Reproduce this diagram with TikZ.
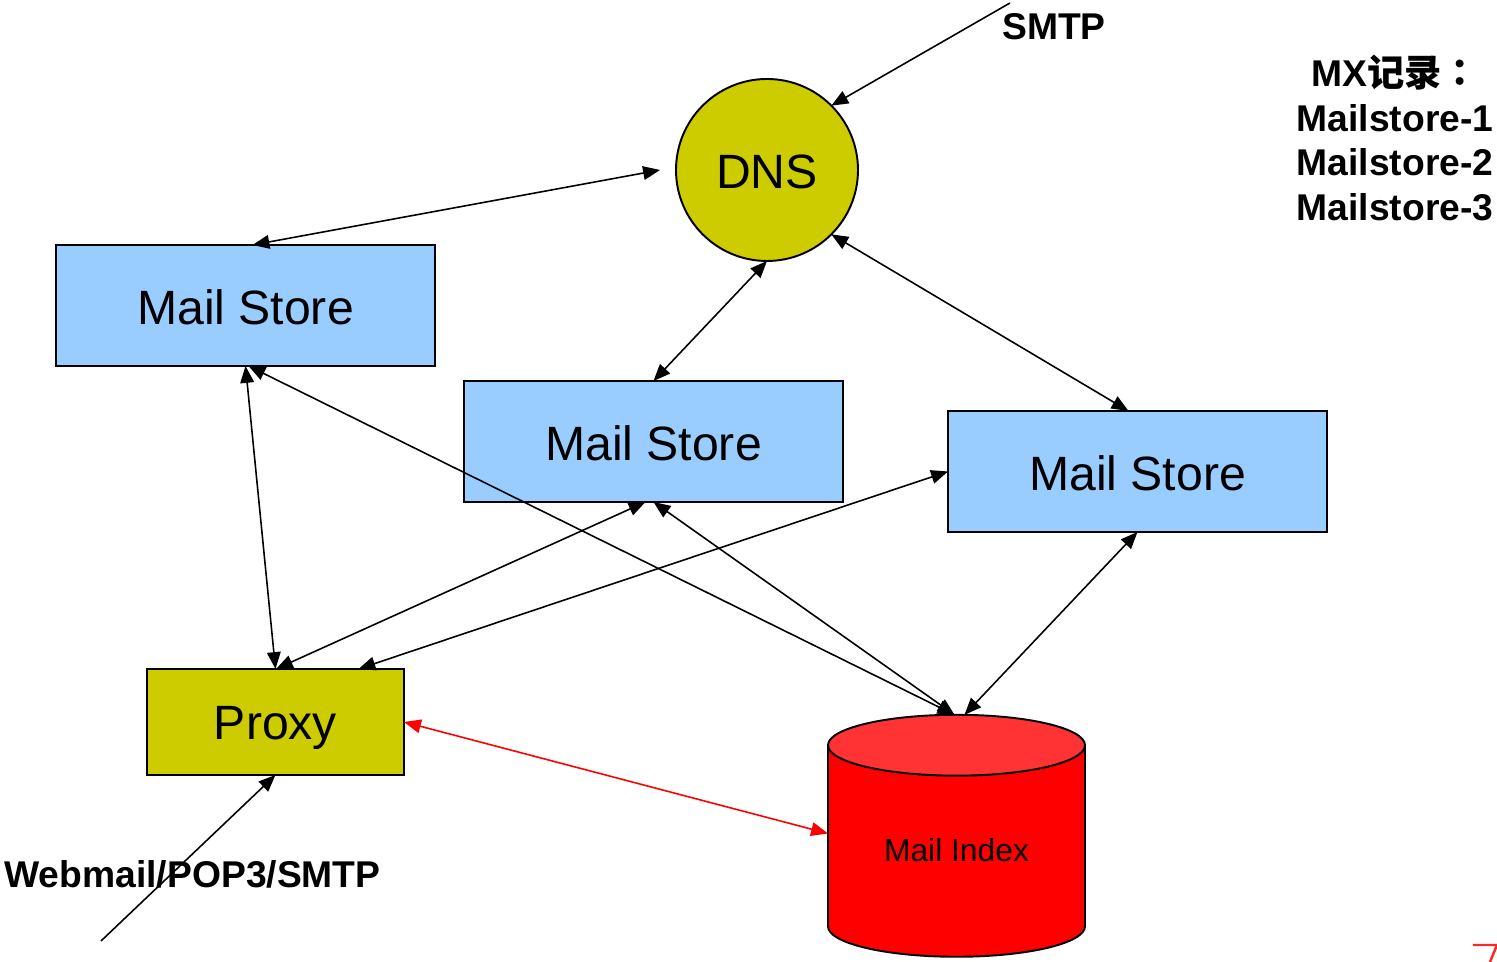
\documentclass[tikz,border=0pt]{standalone}
\usepackage{fontspec}
\setmainfont{Liberation Sans}
\newfontfamily\cjk{Noto Sans CJK TC}
\usetikzlibrary{arrows.meta,shapes.geometric}
\definecolor{storeblue}{HTML}{99CCFF}
\definecolor{olive}{HTML}{CCCC00}
\definecolor{indextop}{HTML}{FF3333}
\tikzset{
	box/.style={draw=black, line width=0.55pt, outer sep=0pt, inner sep=0pt, text height=12pt, text depth=1.06pt, font=\fontsize{13.7}{16}\selectfont},
	store/.style={box, fill=storeblue, minimum width=3.79cm, minimum height=1.21cm},
	link/.style={line width=0.45pt, {Triangle[length=4.8pt,width=3.9pt]}-{Triangle[length=4.8pt,width=3.9pt]}},
	inlink/.style={line width=0.45pt, -{Triangle[length=4.8pt,width=3.9pt]}},
	caption/.style={font=\fontsize{10.6}{12.7}\selectfont\bfseries, inner sep=0pt}
}
\begin{document}
\begin{tikzpicture}
	\useasboundingbox (0,0) rectangle (14.97,9.62);
	% Server
	\node[box, circle, text depth=1.7pt, fill=olive, minimum size=1.82cm] (dns) at (7.67,7.92) {DNS};
	\node[store] (storeA) at (2.455,6.565) {Mail Store};
	\node[store] (storeB) at (6.535,5.205) {Mail Store};
	\node[store] (storeC) at (11.375,4.905) {Mail Store};
	\node[box, text depth=2pt, fill=olive, minimum width=2.57cm, minimum height=1.06cm] (proxy) at (2.755,2.40) {Proxy};
	\node[draw=black, line width=0.55pt, outer sep=0pt, inner sep=0pt, shape=cylinder, shape border rotate=90, aspect=0.42, cylinder uses custom fill, cylinder body fill=red, cylinder end fill=indextop, minimum width=2.57cm, minimum height=2.42cm, text depth=1.1pt, font=\fontsize{9.05}{11}\selectfont] (index) at (9.565,1.105) {Mail Index};

	% Beschriftungen
	\node[caption] (smtp) at (10.54,9.35) {SMTP};
	\node[caption] (webmail) at (1.925,0.88) {Webmail/POP3/SMTP};
	\node[caption, align=center] (mx) at (13.95,8.24) {MX{\cjk 记录：}\\Mailstore-1\\Mailstore-2\\Mailstore-3};

	% freie Enden
	\coordinate (smtpin) at (10.10,9.59);
	\coordinate (webin) at (1.01,0.21);
	\coordinate (dnsleft) at (6.60,7.92);

	% Verbindungen
	\draw[inlink] (smtpin) -- (dns.45);
	\draw[inlink] (webin) -- (proxy.south);
	\draw[link] ([xshift=0.07cm]storeA.north) -- (dnsleft);
	\draw[link] (dns.south) -- (storeB.north);
	\draw[link] (dns.-45) -- ([xshift=-0.09cm]storeC.north);
	\draw[link] (storeA.south) -- (proxy.north);
	\draw[link] ([xshift=0.03cm]storeA.south) -- ([xshift=-0.02cm]index.north);
	\draw[link] (storeB.south) -- ([xshift=-0.02cm]index.north);
	\draw[link] (storeC.south) -- ([xshift=0.08cm]index.north);
	\draw[link] ([xshift=-0.08cm]storeB.south) -- ([xshift=0.005cm]proxy.north);
	\draw[link] (storeC.west) -- ([xshift=0.83cm]proxy.north);
	\draw[link, red] (proxy.east) -- ([yshift=0.18cm]index.west);

	% Rest rechts unten
	\draw[red!85!white, line width=0.7pt] (14.73,0.17) -- (14.97,0.17) -- (14.90,0);
\end{tikzpicture}
\end{document}
